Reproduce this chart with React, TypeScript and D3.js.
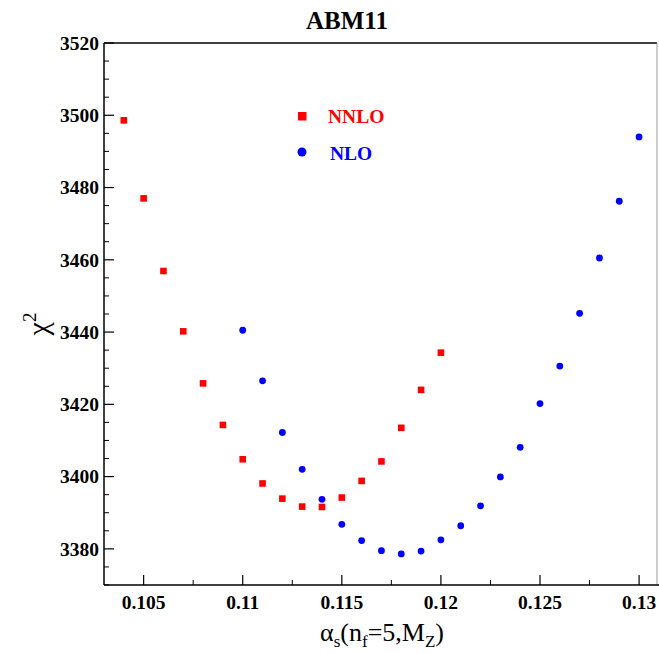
import React from "react";
import * as d3 from "d3";

const nnloX = [0.104, 0.105, 0.106, 0.107, 0.108, 0.109, 0.110, 0.111, 0.112, 0.113, 0.114, 0.115, 0.116, 0.117, 0.118, 0.119, 0.120];
const nnloY = [3498.6, 3477.0, 3456.9, 3440.2, 3425.8, 3414.3, 3404.8, 3398.1, 3393.9, 3391.7, 3391.6, 3394.2, 3398.8, 3404.2, 3413.5, 3424.0, 3434.3];

const nloX = [0.110, 0.111, 0.112, 0.113, 0.114, 0.115, 0.116, 0.117, 0.118, 0.119, 0.120, 0.121, 0.122, 0.123, 0.124, 0.125, 0.126, 0.127, 0.128, 0.129, 0.130];
const nloY = [3440.5, 3426.5, 3412.2, 3402.0, 3393.7, 3386.8, 3382.3, 3379.5, 3378.6, 3379.4, 3382.5, 3386.4, 3391.9, 3399.9, 3408.1, 3420.2, 3430.6, 3445.2, 3460.5, 3476.2, 3494.0];

const xTicks = [0.105, 0.11, 0.115, 0.12, 0.125, 0.13];
const xTickLabels = ["0.105", "0.11", "0.115", "0.12", "0.125", "0.13"];
const yTicks = [3380, 3400, 3420, 3440, 3460, 3480, 3500, 3520];

const W = 659;
const H = 654;
const L = 104;
const R = 657;
const T = 43;
const B = 585;
const FONT = "'Liberation Serif', 'Times New Roman', serif";

export default function App() {
  const x = d3.scaleLinear().domain([0.103, 0.131]).range([L, 658.9]);
  const y = d3.scaleLinear().domain([3370, 3520]).range([B, T]);

  const xMinor = d3.range(0, 6).map((i) => 0.1075 + i * 0.005).filter((v) => v < 0.131);
  const yMinor = d3.range(3370, 3521, 5).filter((v) => v % 20 !== 0);

  const nnlo = nnloX.map((v, i) => [v, nnloY[i]]);
  const nlo = nloX.map((v, i) => [v, nloY[i]]);

  return (
    <div style={{ position: "absolute", left: 0, top: 0 }}>
      <svg width={W} height={H} style={{ display: "block", background: "#fff" }}>
        {/* frame */}
        <line x1={L} x2={R} y1={T} y2={T} stroke="#000" strokeWidth={1.5} />
        <line x1={R} x2={R} y1={T} y2={B} stroke="#999" strokeWidth={1} />
        <line x1={L} x2={L} y1={T} y2={B} stroke="#000" strokeWidth={1.5} />
        <line x1={L} x2={W} y1={B} y2={B} stroke="#000" strokeWidth={1.5} />

        {/* y ticks */}
        {yTicks.map((t) => (
          <g key={"yt" + t}>
            <line x1={L} x2={L + 10} y1={y(t)} y2={y(t)} stroke="#000" strokeWidth={1.2} />
            <text x={L - 5} y={y(t)} dy="0.35em" textAnchor="end" fontFamily={FONT} fontWeight="bold" fontSize={19.5}>
              {t}
            </text>
          </g>
        ))}
        {yMinor.map((t) => (
          <line key={"ym" + t} x1={L} x2={L + 5} y1={y(t)} y2={y(t)} stroke="#000" strokeWidth={1} />
        ))}

        {/* x ticks */}
        {xTicks.map((t, i) => (
          <g key={"xt" + t}>
            <line x1={x(t)} x2={x(t)} y1={B} y2={B - 10} stroke="#000" strokeWidth={1.2} />
            <text x={x(t)} y={B + 24} textAnchor="middle" fontFamily={FONT} fontWeight="bold" fontSize={19.5}>
              {xTickLabels[i]}
            </text>
          </g>
        ))}
        {xMinor.map((t) => (
          <line key={"xm" + t} x1={x(t)} x2={x(t)} y1={B} y2={B - 5} stroke="#000" strokeWidth={1} />
        ))}

        {/* data */}
        {nnlo.map(([a, b], i) => (
          <rect key={"r" + i} x={x(a) - 3.3} y={y(b) - 3.3} width={6.6} height={6.6} fill="#ff0000" />
        ))}
        {nlo.map(([a, b], i) => (
          <circle key={"c" + i} cx={x(a)} cy={y(b)} r={3.4} fill="#0000ff" />
        ))}

        {/* legend */}
        <rect x={298} y={112} width={8.5} height={8.5} fill="#ff0000" />
        <text x={328} y={116} dy="0.35em" fontFamily={FONT} fontWeight="bold" fontSize={19.5} fill="#ff0000">
          NNLO
        </text>
        <circle cx={302} cy={152} r={4.5} fill="#0000ff" />
        <text x={330} y={153} dy="0.35em" fontFamily={FONT} fontWeight="bold" fontSize={19.5} fill="#0000ff">
          NLO
        </text>

        {/* title */}
        <text x={347} y={29} textAnchor="middle" fontFamily={FONT} fontWeight="bold" fontSize={25}>
          ABM11
        </text>

        {/* x axis title */}
        <text x={382} y={641} textAnchor="middle" fontFamily={FONT} fontSize={26}>
          α
          <tspan fontSize={17} dy={6}>s</tspan>
          <tspan dy={-6}>(n</tspan>
          <tspan fontSize={17} dy={6}>f</tspan>
          <tspan dy={-6}>=5,M</tspan>
          <tspan fontSize={17} dy={6}>Z</tspan>
          <tspan dy={-6}>)</tspan>
        </text>

        {/* y axis title */}
        <text transform="translate(48,324) rotate(-90)" textAnchor="middle" fontFamily={FONT} fontSize={30}>
          χ
          <tspan fontSize={19} dy={-12}>2</tspan>
        </text>
      </svg>
    </div>
  );
}
